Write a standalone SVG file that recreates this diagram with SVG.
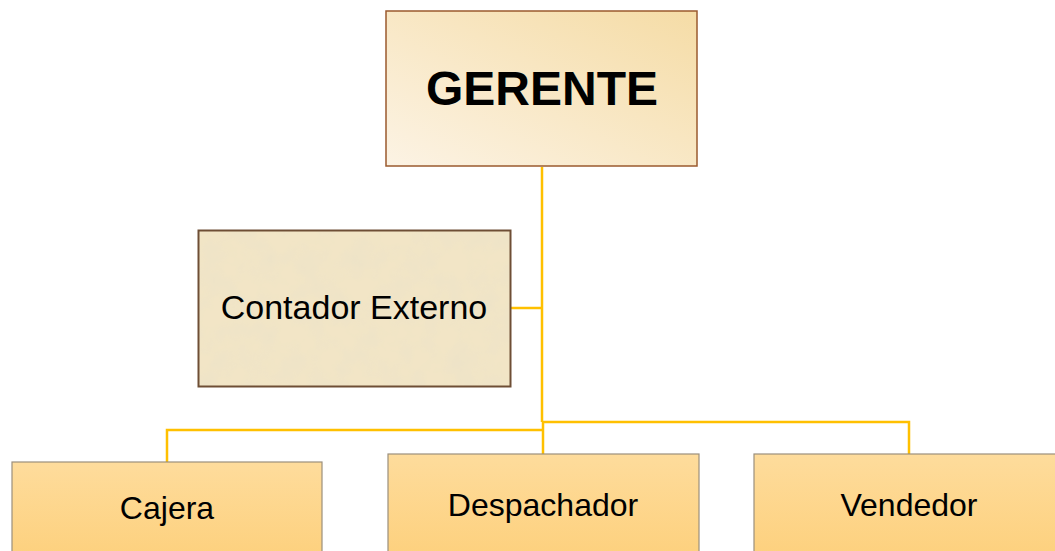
<svg xmlns="http://www.w3.org/2000/svg" width="1055" height="551" viewBox="0 0 1055 551">
<defs>
<linearGradient id="gGer" x1="0" y1="1" x2="1" y2="0">
<stop offset="0" stop-color="#FCF3E4"/>
<stop offset="1" stop-color="#F5DCA6"/>
</linearGradient>
<linearGradient id="gSub" x1="0" y1="0" x2="0" y2="1">
<stop offset="0" stop-color="#FEDC9C"/>
<stop offset="1" stop-color="#FDD07C"/>
</linearGradient>
<filter id="parch" x="0" y="0" width="100%" height="100%">
<feTurbulence type="fractalNoise" baseFrequency="0.04" numOctaves="4" seed="7" result="n"/>
<feColorMatrix in="n" type="matrix" values="0 0 0 0 0.84  0 0 0 0 0.76  0 0 0 0 0.58  0 0 0 1.4 -0.55" result="c"/>
<feComposite in="c" in2="SourceGraphic" operator="in" result="t"/>
<feMerge><feMergeNode in="SourceGraphic"/><feMergeNode in="t"/></feMerge>
</filter>
</defs>
<style>
.lbl{font-family:"Liberation Sans",Arial,sans-serif;fill:#000;text-anchor:middle}
.sub{fill:url(#gSub);stroke:#9B8F7C;stroke-width:1.2}
.conn{fill:none;stroke:#FFC000;stroke-width:2.5}
</style>
<g id="connectors">
<path class="conn" d="M542 167 V422"/>
<path class="conn" d="M542 308 H511"/>
<path class="conn" d="M542 422 H909 V454"/>
<path class="conn" d="M543 422 V454"/>
<path class="conn" d="M543 430 H167 V462"/>
</g>
<g id="gerente">
<rect x="386" y="11" width="311" height="155" fill="url(#gGer)" stroke="#9A5A2E" stroke-width="1.5"/>
<text class="lbl" x="542" y="105" font-size="48" font-weight="bold">GERENTE</text>
</g>
<g id="contador">
<rect x="198" y="230" width="313" height="157" fill="#F2E5C6" filter="url(#parch)"/>
<rect x="198.5" y="230.5" width="312" height="156" fill="none" stroke="#6E4E35" stroke-width="2"/>
<text class="lbl" x="354" y="319" font-size="34">Contador Externo</text>
</g>
<g id="cajera">
<rect class="sub" x="12" y="462" width="310" height="100"/>
<text class="lbl" x="167" y="519" font-size="32">Cajera</text>
</g>
<g id="despachador">
<rect class="sub" x="388" y="454" width="311" height="108"/>
<text class="lbl" x="543" y="516" font-size="32">Despachador</text>
</g>
<g id="vendedor">
<rect class="sub" x="754" y="454" width="311" height="108"/>
<text class="lbl" x="909" y="516" font-size="32">Vendedor</text>
</g>
</svg>
